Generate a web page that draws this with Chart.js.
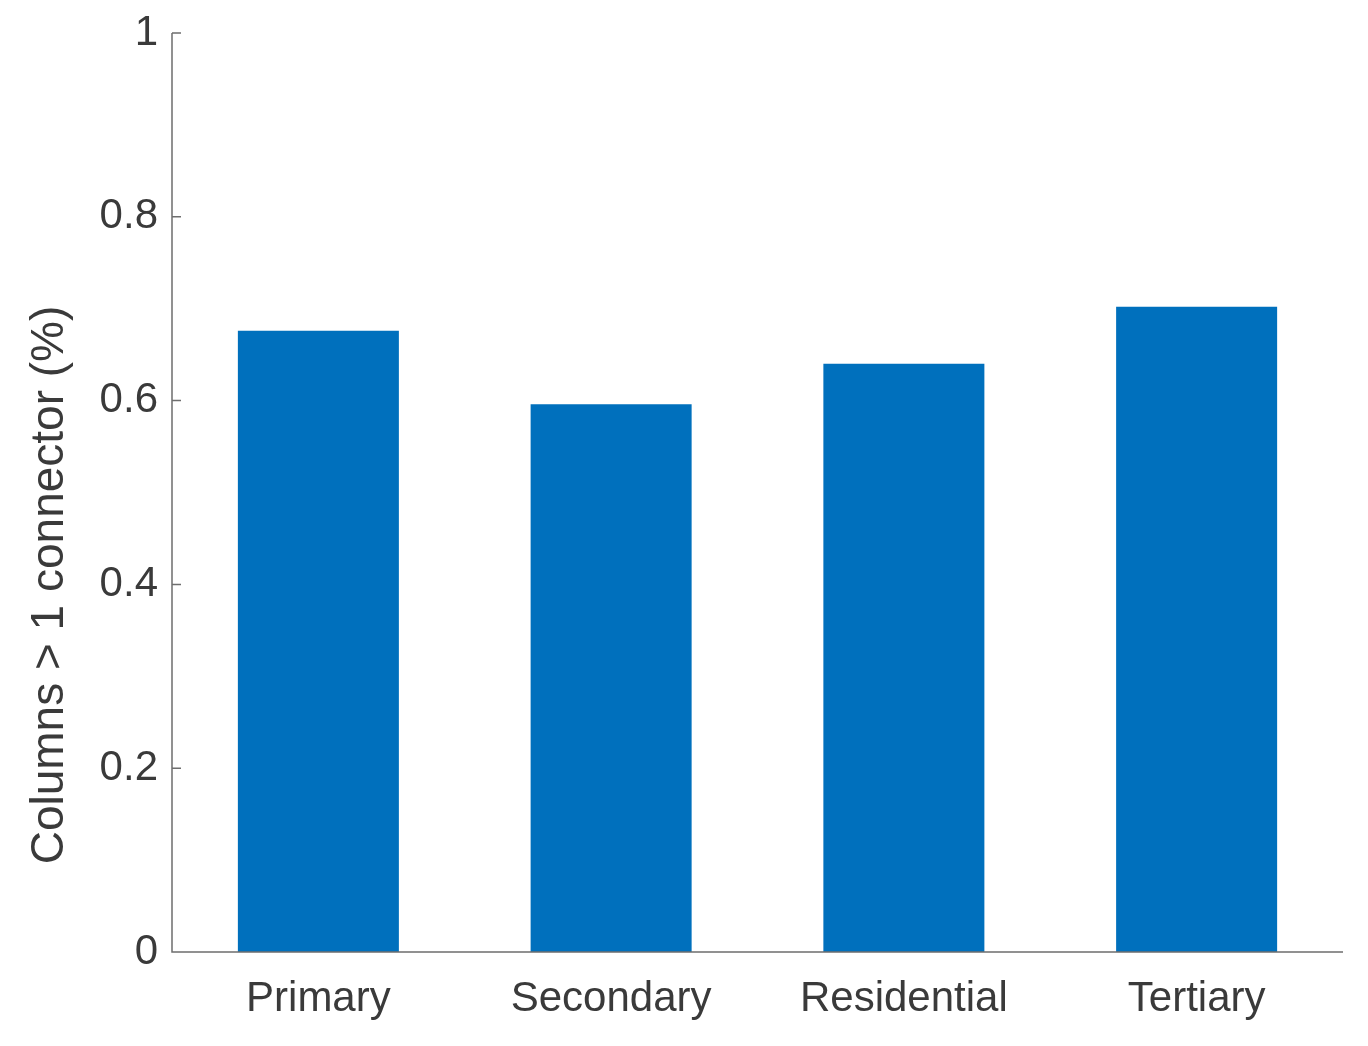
<!DOCTYPE html>
<html>
<head>
<meta charset="utf-8">
<script src="https://cdn.jsdelivr.net/npm/chart.js@4"></script>
<style>
  html, body { margin: 0; padding: 0; background: #ffffff; }
  #wrap { width: 1368px; height: 1046px; position: relative; }
</style>
</head>
<body>
<div id="wrap"><canvas id="barChart"></canvas></div>
<script>
// Columns with more than one connector, by building category

const categories = ["Primary", "Secondary", "Residential", "Tertiary"];
const shareValues = [0.676, 0.596, 0.640, 0.702];
const yTicks = [0, 0.2, 0.4, 0.6, 0.8, 1];
const yTitle = "Columns > 1 connector (%)";

const FONT = "'Liberation Sans', Arial, sans-serif";
const TEXT_COLOR = "#3a3a3a";
const AXIS_COLOR = "#6e6e6e";

// ── MATLAB-like axes: inward y ticks, off-centre y label ─────
const matlabAxes = {
  id: "matlabAxes",
  afterDraw(chart) {
    const ctx = chart.ctx;
    const y = chart.scales.y;
    const x = chart.scales.x;
    ctx.save();
    ctx.strokeStyle = AXIS_COLOR;
    ctx.lineWidth = 1.5;
    ctx.beginPath();
    ctx.moveTo(x.left, y.top);
    ctx.lineTo(x.left, y.bottom);
    ctx.lineTo(x.right, y.bottom);
    y.ticks.forEach((t, i) => {
      const py = y.getPixelForTick(i);
      ctx.moveTo(x.left, py);
      ctx.lineTo(x.left + 9, py);
    });
    ctx.stroke();

    ctx.fillStyle = TEXT_COLOR;
    ctx.font = "46px " + FONT;
    ctx.textAlign = "center";
    ctx.textBaseline = "middle";
    ctx.translate(50, 585);
    ctx.rotate(-Math.PI / 2);
    ctx.fillText(yTitle, 0, 0);
    ctx.restore();
  }
};

new Chart(document.getElementById("barChart").getContext("2d"), {
  type: "bar",
  data: {
    labels: categories,
    datasets: [{
      data:               shareValues,
      backgroundColor:    "#0070bd",
      borderWidth:        0,
      barPercentage:      0.55,
      categoryPercentage: 1.0
    }]
  },
  options: {
    responsive:          true,
    maintainAspectRatio: false,
    animation:           false,
    layout: { padding: { top: 33, right: 25, left: 0, bottom: 0 } },
    plugins: {
      legend:  { display: false },
      tooltip: { enabled: false }
    },
    scales: {
      x: {
        grid:   { display: false, drawTicks: false },
        border: { display: false },
        ticks: {
          color:   TEXT_COLOR,
          padding: 22,
          font:    { family: FONT, size: 42 }
        },
        afterFit(scale) {
          scale.height = 94;
          scale.paddingLeft = 0;
          scale.paddingRight = 0;
        }
      },
      y: {
        min: 0,
        max: 1,
        afterBuildTicks(scale) {
          scale.ticks = yTicks.map(v => ({ value: v }));
        },
        grid:   { display: false, drawTicks: false },
        border: { display: false },
        ticks: {
          color:   TEXT_COLOR,
          padding: 14,
          font:    { family: FONT, size: 42 },
          callback: v => String(v)
        },
        afterFit(scale) {
          scale.width = 172;
          scale.paddingTop = 0;
          scale.paddingBottom = 0;
        }
      }
    }
  },
  plugins: [matlabAxes]
});
</script>
</body>
</html>
